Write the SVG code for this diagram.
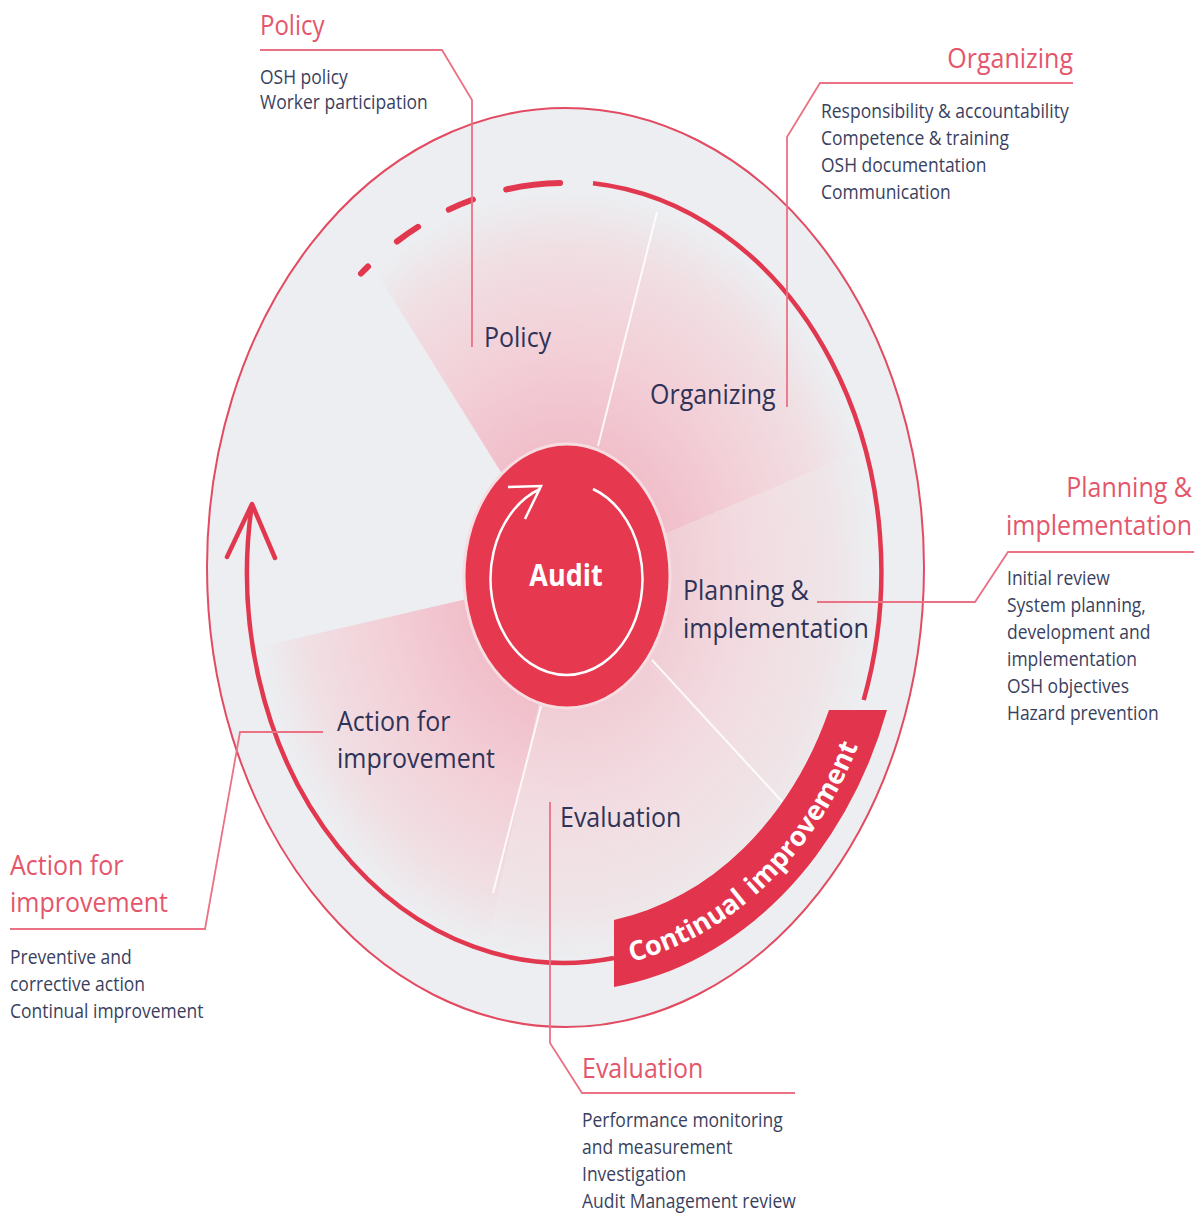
<svg xmlns="http://www.w3.org/2000/svg" width="1204" height="1218" viewBox="0 0 1204 1218">
<style>
  .f { font-family: "Open Sans", "Noto Sans", sans-serif; }
  .title { font-family: "Open Sans", "Noto Sans", sans-serif; font-size: 25px; fill: #e4566b; }
  .item { font-family: "Open Sans", "Noto Sans", sans-serif; font-size: 17.5px; fill: #3a3f60; }
  .label { font-family: "Open Sans", "Noto Sans", sans-serif; font-size: 25px; fill: #2f3357; }
  .lead { fill: none; stroke: #ea7284; stroke-width: 1.8; }
  .ring { fill: none; stroke: #e2384f; stroke-width: 4.5; }
  .dash { fill: none; stroke: #e2384f; stroke-width: 6; stroke-linecap: round; }
  .sep { stroke: #ffffff; stroke-width: 2; stroke-opacity: 0.85; }
  .wedge { fill: url(#wedgeGrad); }
  .wedge2 { fill: url(#wedgeGrad2); }
  .ci { font-family: "Open Sans", "Noto Sans", sans-serif; font-size: 27px; font-weight: bold; fill: #ffffff; }
</style>
<defs>
  <radialGradient id="wedgeGrad" gradientUnits="userSpaceOnUse" cx="0" cy="0" r="1" gradientTransform="translate(566 576) scale(310 385)">
    <stop offset="0.3" stop-color="#f0bcc8"/>
    <stop offset="0.6" stop-color="#f3d0d8"/>
    <stop offset="0.85" stop-color="#f0dfe3"/>
    <stop offset="1" stop-color="#eceef1"/>
  </radialGradient>
  <radialGradient id="wedgeGrad2" gradientUnits="userSpaceOnUse" cx="0" cy="0" r="1" gradientTransform="translate(566 576) scale(310 385)">
    <stop offset="0.3" stop-color="#f1cbd4"/>
    <stop offset="0.6" stop-color="#f2dce1"/>
    <stop offset="0.85" stop-color="#efe4e7"/>
    <stop offset="1" stop-color="#eceef1"/>
  </radialGradient>
  <path id="ciPath" d="M 612 966 A 325 397 0 0 0 870 712"/>
</defs>

<rect width="1204" height="1218" fill="#ffffff"/>

<g id="wheel">
  <ellipse cx="565.5" cy="567.5" rx="358.5" ry="459.5" fill="#eceef1" stroke="#e24b61" stroke-width="2"/>
  <path class="wedge" d="M566,576 L375.9,271.8 A310,385 0 0 1 657.7,208.3 Z"/>
  <path class="wedge" d="M566,576 L657.7,208.3 A310,385 0 0 1 859.4,451.5 Z"/>
  <path class="wedge2" d="M566,576 L859.4,451.5 A310,385 0 0 1 804.1,822.5 Z"/>
  <path class="wedge2" d="M566,576 L804.1,822.5 A310,385 0 0 1 486.9,948.3 Z"/>
  <path class="wedge" d="M566,576 L486.9,948.3 A310,385 0 0 1 261.2,646.4 Z"/>
  <line class="sep" x1="598" y1="446" x2="657" y2="212"/>
  <line class="sep" x1="652" y1="660" x2="788" y2="808"/>
  <line class="sep" x1="541" y1="706" x2="493" y2="893"/>
</g>

<g id="connectors">
  <path class="ring" d="M 251.8 505 A 317 390 0 0 0 614 958"/>
  <path class="ring" d="M 863.7 700 A 317 390 0 0 0 593 183.2"/>
  <path class="dash" d="M 560.1 183 A 317 390 0 0 0 506.2 189.5"/>
  <path class="dash" d="M 472.9 199.5 A 317 390 0 0 0 448.8 209.6"/>
  <path class="dash" d="M 418.1 226.8 A 317 390 0 0 0 396.9 241.5"/>
  <path class="dash" d="M 368 266.5 A 317 390 0 0 0 361 273.5"/>
  <path class="ring" d="M 227 557 L 252 504 L 275 558" stroke-linecap="round" stroke-linejoin="round"/>
  <path class="lead" d="M260,50 H442 L472,100 V347"/>
  <path class="lead" d="M1073,83 H820 L787,137 V407"/>
  <path class="lead" d="M1194,552 H1008 L975,602 H817"/>
  <path class="lead" d="M10,929 H205 L240,732 H323"/>
  <path class="lead" d="M795,1093 H582 L550,1043 V802"/>
</g>

<g id="continual-improvement">
  <path d="M 614 920 A 288 352 0 0 0 829 710 L 887 710 A 342 418 0 0 1 614 987 Z" fill="#e3344d"/>
  <text class="ci"><textPath href="#ciPath" startOffset="20">Continual</textPath></text>
  <text class="ci"><textPath href="#ciPath" startOffset="161">improvement</textPath></text>
</g>

<g id="audit">
  <ellipse cx="567" cy="576" rx="103" ry="132" fill="#e63950" stroke="#f6dde2" stroke-width="3"/>
  <path d="M 593 489 A 76 96 0 1 1 540 489" fill="none" stroke="#ffffff" stroke-width="2.5"/>
  <path d="M 508 487 L 541 486 L 525 519" fill="none" stroke="#ffffff" stroke-width="2.5"/>
  <text class="f" font-size="27" font-weight="bold" fill="#ffffff" text-anchor="middle" transform="translate(566,586) scale(1,1.12)">Audit</text>
</g>

<g id="policy">
  <text class="label" transform="translate(484,347) scale(1,1.12)">Policy</text>
  <text class="title" transform="translate(260,35) scale(1,1.12)" style="font-size:24px">Policy</text>
  <text class="item" transform="translate(260,84) scale(1,1.12)"><tspan x="0" dy="0">OSH policy</tspan><tspan x="0" dy="22.3">Worker participation</tspan></text>
</g>

<g id="organizing">
  <text class="label" transform="translate(650,404) scale(1,1.12)">Organizing</text>
  <text class="title" text-anchor="end" transform="translate(1073,68) scale(1,1.12)">Organizing</text>
  <text class="item" transform="translate(821,118) scale(1,1.12)"><tspan x="0" dy="0">Responsibility &amp; accountability</tspan><tspan x="0" dy="24.1">Competence &amp; training</tspan><tspan x="0" dy="24.1">OSH documentation</tspan><tspan x="0" dy="24.1">Communication</tspan></text>
</g>

<g id="planning">
  <text class="label" transform="translate(683,600) scale(1,1.12)"><tspan x="0" dy="0">Planning &amp;</tspan><tspan x="0" dy="34">implementation</tspan></text>
  <text class="title" text-anchor="end" transform="translate(1192,497) scale(1,1.12)"><tspan x="0" dy="0">Planning &amp;</tspan><tspan x="0" dy="33.9">implementation</tspan></text>
  <text class="item" transform="translate(1007,585) scale(1,1.12)"><tspan x="0" dy="0">Initial review</tspan><tspan x="0" dy="24.1">System planning,</tspan><tspan x="0" dy="24.1">development and</tspan><tspan x="0" dy="24.1">implementation</tspan><tspan x="0" dy="24.1">OSH objectives</tspan><tspan x="0" dy="24.1">Hazard prevention</tspan></text>
</g>

<g id="evaluation">
  <text class="label" transform="translate(560,827) scale(1,1.12)">Evaluation</text>
  <text class="title" transform="translate(582,1078) scale(1,1.12)">Evaluation</text>
  <text class="item" transform="translate(582,1127) scale(1,1.12)"><tspan x="0" dy="0">Performance monitoring</tspan><tspan x="0" dy="24.1">and measurement</tspan><tspan x="0" dy="24.1">Investigation</tspan><tspan x="0" dy="24.1">Audit Management review</tspan></text>
</g>

<g id="action">
  <text class="label" transform="translate(337,731) scale(1,1.12)"><tspan x="0" dy="0">Action for</tspan><tspan x="0" dy="33">improvement</tspan></text>
  <text class="title" transform="translate(10,875) scale(1,1.12)"><tspan x="0" dy="0">Action for</tspan><tspan x="0" dy="33">improvement</tspan></text>
  <text class="item" transform="translate(10,964) scale(1,1.12)"><tspan x="0" dy="0">Preventive and</tspan><tspan x="0" dy="24.1">corrective action</tspan><tspan x="0" dy="24.1">Continual improvement</tspan></text>
</g>
</svg>
